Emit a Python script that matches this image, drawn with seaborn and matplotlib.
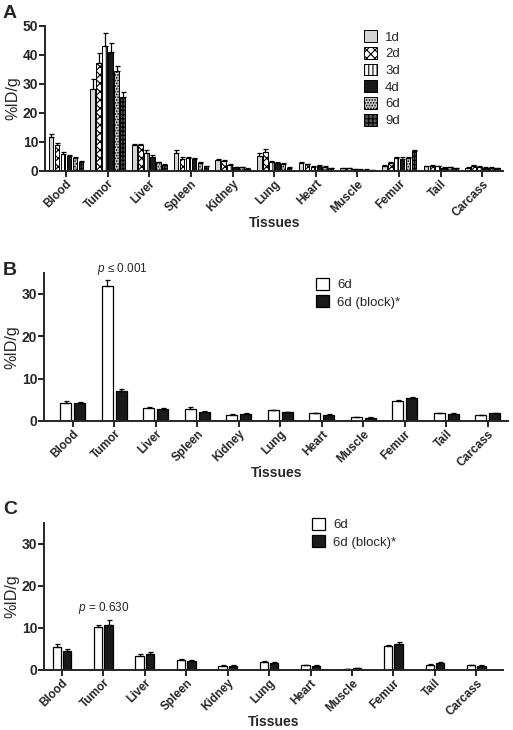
import matplotlib
matplotlib.use("Agg")
import matplotlib.pyplot as plt
from matplotlib.patches import Patch
import numpy as np
import pandas as pd
import seaborn as sns

tissues = ["Blood", "Tumor", "Liver", "Spleen", "Kidney", "Lung", "Heart",
           "Muscle", "Femur", "Tail", "Carcass"]

# panel A: time course
days = ["1d", "2d", "3d", "4d", "6d", "9d"]
a_1d = [11.5, 28.0, 9.0, 6.3, 3.8, 5.0, 2.7, 0.9, 1.6, 1.5, 1.0]
a_2d = [9.0, 37.0, 8.8, 4.0, 3.5, 6.5, 2.2, 0.9, 2.6, 1.8, 1.7]
a_3d = [5.8, 43.0, 6.3, 4.3, 2.0, 3.2, 1.3, 0.6, 4.5, 1.5, 1.3]
a_4d = [5.0, 41.0, 4.8, 4.2, 1.2, 2.8, 1.8, 0.4, 4.2, 1.0, 1.1]
a_6d = [4.5, 34.5, 2.9, 2.8, 1.3, 2.3, 1.4, 0.4, 4.5, 1.2, 1.0]
a_9d = [3.2, 25.5, 2.0, 1.6, 0.7, 1.1, 0.8, 0.2, 6.9, 0.8, 0.8]
a_1d_err = [1.3, 3.5, 0.2, 0.9, 0.2, 1.2, 0.2, 0.1, 0.3, 0.2, 0.2]
a_2d_err = [0.5, 3.5, 0.3, 0.6, 0.3, 1.0, 0.3, 0.1, 0.5, 0.3, 0.3]
a_3d_err = [0.8, 4.5, 0.7, 0.4, 0.2, 0.3, 0.2, 0.1, 0.3, 0.2, 0.2]
a_4d_err = [0.3, 3.0, 0.8, 0.3, 0.1, 0.3, 0.2, 0.1, 0.4, 0.2, 0.2]
a_6d_err = [0.3, 1.5, 0.2, 0.3, 0.1, 0.3, 0.2, 0.1, 0.3, 0.2, 0.2]
a_9d_err = [0.3, 1.8, 0.2, 0.2, 0.1, 0.2, 0.1, 0.1, 0.4, 0.1, 0.1]

# panel B: 6d vs blocked
groups = ["6d", "6d (block)*"]
b_6d = [4.3, 32.0, 3.0, 2.8, 1.4, 2.5, 1.8, 0.9, 4.8, 1.9, 1.3]
b_blk = [4.3, 7.0, 2.9, 2.2, 1.6, 2.1, 1.5, 0.8, 5.4, 1.7, 1.8]
b_6d_err = [0.5, 1.3, 0.2, 0.4, 0.2, 0.1, 0.2, 0.1, 0.1, 0.1, 0.1]
b_blk_err = [0.3, 0.5, 0.1, 0.1, 0.2, 0.1, 0.2, 0.1, 0.2, 0.1, 0.1]

# panel C
c_6d = [5.5, 10.2, 3.4, 2.3, 1.0, 1.9, 1.1, 0.3, 5.7, 1.3, 1.1]
c_blk = [4.5, 10.8, 3.8, 2.1, 1.0, 1.7, 1.0, 0.4, 6.2, 1.6, 1.0]
c_6d_err = [0.8, 0.6, 0.5, 0.4, 0.1, 0.2, 0.1, 0.05, 0.2, 0.1, 0.2]
c_blk_err = [0.6, 1.0, 0.5, 0.3, 0.1, 0.2, 0.1, 0.05, 0.5, 0.2, 0.1]

a_colors = ["#d4d4d4", "white", "white", "#1a1a1a", "#c8c8c8", "#555555"]
a_hatches = ["", "xxxx", "||||", "", "......", "++++"]

sns.set_style("ticks")
plt.rcParams["font.family"] = ["Liberation Sans", "DejaVu Sans"]
plt.rcParams["mathtext.fontset"] = "custom"
plt.rcParams["mathtext.it"] = "Liberation Sans:italic"
plt.rcParams["mathtext.rm"] = "Liberation Sans"
plt.rcParams["hatch.color"] = "black"
plt.rcParams["hatch.linewidth"] = 0.8


def long_frame(series, names):
    rows = []
    for name, vals in zip(names, series):
        for t, v in zip(tissues, vals):
            rows.append({"tissue": t, "group": name, "value": v})
    return pd.DataFrame(rows)


def add_errors(ax, errs):
    for cont, err in zip(ax.containers, errs):
        xs = [p.get_x() + p.get_width() / 2 for p in cont.patches]
        hs = [p.get_height() for p in cont.patches]
        ax.errorbar(xs, hs, yerr=[np.zeros(len(err)), err], fmt="none",
                    ecolor="black", elinewidth=0.9, capsize=1.8,
                    capthick=0.9, zorder=1)


def style_axis(ax, ymax, yticks, xlim):
    sns.despine(ax=ax)
    ax.spines["left"].set_linewidth(1.4)
    ax.spines["bottom"].set_linewidth(1.4)
    ax.set_ylim(0, ymax)
    ax.set_xlim(*xlim)
    ax.set_yticks(yticks)
    ax.tick_params(axis="both", width=1.4, length=4, pad=1)
    for lab in ax.get_yticklabels():
        lab.set_fontweight("bold")
        lab.set_fontsize(10)
    ax.set_xticks(range(len(tissues)))
    ax.set_xticklabels(tissues, rotation=45, ha="right",
                       rotation_mode="anchor", fontsize=8.5, fontweight="bold")
    ax.set_xlabel("Tissues", fontsize=10, fontweight="bold", labelpad=-2)
    ax.set_ylabel("%ID/g", fontsize=11.5)
    ax.yaxis.set_label_coords(-0.054, 0.5)


fig = plt.figure(figsize=(5.13, 7.30), dpi=100)
axA = fig.add_axes([0.088, 0.766, 0.893, 0.199])
axB = fig.add_axes([0.086, 0.4233, 0.905, 0.203])
axC = fig.add_axes([0.086, 0.0822, 0.895, 0.2014])

for letter, ytop in [("A", 5), ("B", 262), ("C", 501)]:
    fig.text(3 / 513, 1 - ytop / 730, letter, fontsize=14, fontweight="bold",
             ha="left", va="top")

# panel A
dfA = long_frame([a_1d, a_2d, a_3d, a_4d, a_6d, a_9d], days)
sns.barplot(data=dfA, x="tissue", y="value", hue="group", ax=axA,
            width=0.86, gap=0.22, edgecolor="black", linewidth=0.7,
            palette=a_colors, errorbar=None, legend=False)
for cont, h in zip(axA.containers, a_hatches):
    for p in cont.patches:
        p.set_hatch(h)
add_errors(axA, [a_1d_err, a_2d_err, a_3d_err, a_4d_err, a_6d_err, a_9d_err])
style_axis(axA, 50, [0, 10, 20, 30, 40, 50], (-0.5, 10.5))
handlesA = [Patch(facecolor=c, edgecolor="black", hatch=h, linewidth=0.7)
            for c, h in zip(a_colors, a_hatches)]
axA.legend(handlesA, days, loc="upper left", bbox_to_anchor=(0.67, 1.05),
           frameon=False, fontsize=9.5, handlelength=1.0, handleheight=1.0,
           labelspacing=0.25, handletextpad=0.6)

# panel B and C
for ax, s1, s2, e1, e2, ptxt, px, py, lx, ly, bw, xl in [
        (axB, b_6d, b_blk, b_6d_err, b_blk_err, r"$p$ ≤ 0.001", 1.2, 35.8,
         0.56, 1.045, 0.67, (-0.69, 10.5)),
        (axC, c_6d, c_blk, c_6d_err, c_blk_err, r"$p$ = 0.630", 1.0, 14.8,
         0.558, 1.115, 0.5, (-0.43, 10.65))]:
    df = long_frame([s1, s2], groups)
    sns.barplot(data=df, x="tissue", y="value", hue="group", ax=ax,
                width=bw, gap=0.2, edgecolor="black", linewidth=0.9,
                palette=["white", "#1a1a1a"], errorbar=None, legend=False)
    add_errors(ax, [e1, e2])
    style_axis(ax, 35, [0, 10, 20, 30], xl)
    handles = [Patch(facecolor=c, edgecolor="black", linewidth=0.9)
               for c in ["white", "#1a1a1a"]]
    ax.legend(handles, groups, loc="upper left", bbox_to_anchor=(lx, ly),
              frameon=False, fontsize=9.5, handlelength=1.0, handleheight=1.0,
              labelspacing=0.3, handletextpad=0.6)
    ax.text(px, py, ptxt, ha="center", va="center", fontsize=8.5,
            clip_on=False)

fig.savefig("out.png", dpi=100)
